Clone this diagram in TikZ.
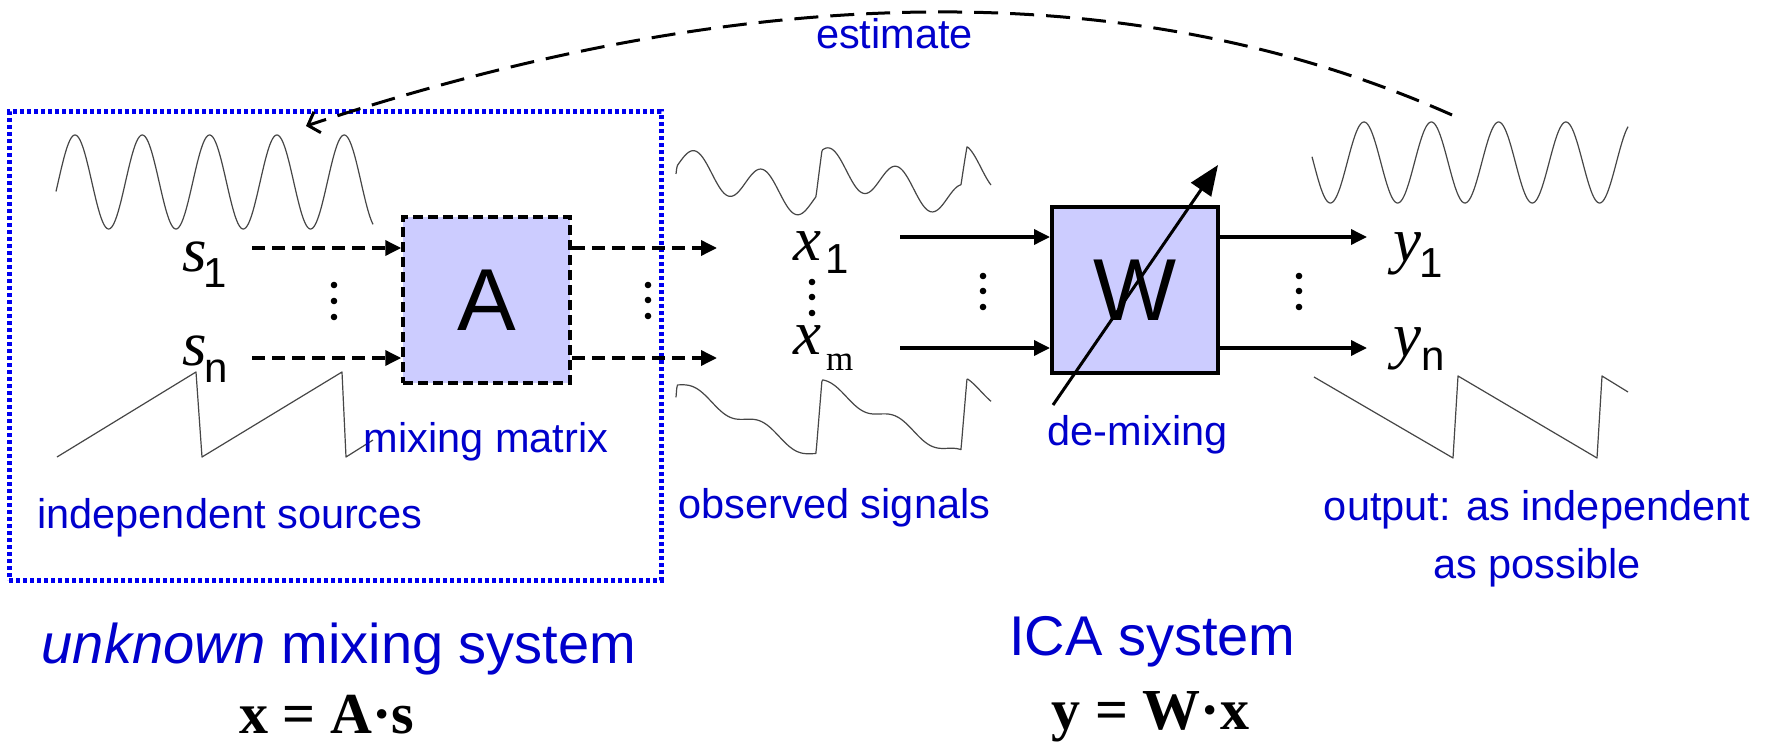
\documentclass[tikz,border=0pt]{standalone}
\usepackage{fontspec}
\setmainfont{Liberation Sans}
\newfontfamily\tnr{Liberation Serif}
\usetikzlibrary{arrows.meta}
\definecolor{lblue}{RGB}{0,0,204}
\definecolor{dotblue}{RGB}{0,0,240}
\definecolor{boxfill}{RGB}{204,204,255}
\definecolor{sigcol}{RGB}{70,70,70}
\begin{document}
\begin{tikzpicture}[x=1pt,y=-1pt,
  declare function={sn(\t)=cos((\t-75)/67.3*360); rr(\t)=mod(\t+233,145); saw(\t)=(rr(\t)<139)?(-1+2*rr(\t)/139):(1-2*(rr(\t)-139)/6);},
  lbl/.style={text=lblue, inner sep=0pt, font=\fontsize{41.5}{58}\selectfont},
  biglbl/.style={text=lblue, inner sep=0pt, font=\fontsize{56}{66}\selectfont},
  eqn/.style={inner sep=0pt, font=\tnr\bfseries\fontsize{58}{66}\selectfont},
  var/.style={inner sep=0pt, anchor=base west, font=\tnr\itshape\fontsize{63}{70}\selectfont},
  mixbox/.style={draw, line width=3.5pt, dash pattern=on 10pt off 5pt, fill=boxfill, minimum width=167pt, minimum height=166pt, inner sep=0pt, font=\fontsize{88}{90}\selectfont},
  wbox/.style={draw, line width=4pt, fill=boxfill, minimum width=166pt, minimum height=166pt, inner sep=0pt, font=\fontsize{88}{90}\selectfont},
  frame/.style={draw=dotblue, line width=5pt, dash pattern=on 4pt off 3pt, inner sep=0pt},
  sig/.style={draw=sigcol, line width=1.2pt, line join=round},
  darr/.style={line width=3.5pt, dash pattern=on 13pt off 7pt, -{Triangle[length=16pt,width=15pt]}},
  sarr/.style={line width=3.5pt, -{Triangle[length=16pt,width=15pt]}}
]
\useasboundingbox (0,0) rectangle (1776,746);
\fill[white] (0,0) rectangle (1776,746);

% blue dotted frame of the unknown mixing system
\node[frame, minimum width=652pt, minimum height=468pt] (unk) at (335,346) {};

% signals
\draw[sig] plot[domain=56:373, samples=320] (\x,{182-47*sn(\x)});
\draw[sig] (57,457) -- (196,372) -- (202,457) -- (342,372) -- (346,457) -- (373,440);
\draw[sig] plot[domain=56:371, samples=420] ({\x+620},{183-18*sn(\x)+19*saw(\x)});
\draw[sig] plot[domain=56:371, samples=420] ({\x+620},{419.8-5.9*sn(\x)+35.5*saw(\x)});
\draw[sig] plot[domain=1312:1628, samples=320] (\x,{162.5-40.5*cos((\x-1364)/67.3*360)});
\draw[sig] (1314,377) -- (1453,458) -- (1458,376) -- (1597,458) -- (1602,376) -- (1628,392);

% boxes
\node[mixbox] (A) at (486.5,300) {A};
\node[wbox] (W) at (1135,290) {W};

% variable labels
\node[var] (s1) at (182,271) {s\kern-3pt\raisebox{-16pt}{\normalfont\fontsize{42}{44}\selectfont 1}};
\node[var] (sn) at (182,365) {s\kern-2pt\raisebox{-17pt}{\normalfont\fontsize{42}{44}\selectfont n}};
\node[var] (x1) at (793,260) {x\kern4pt\raisebox{-13pt}{\normalfont\fontsize{42}{44}\selectfont 1}};
\node[var] (xm) at (793,354) {x\kern5pt\raisebox{-16pt}{\normalfont\tnr\fontsize{35}{38}\selectfont m}};
\node[var] (y1) at (1393,261) {y\kern-2pt\raisebox{-16pt}{\normalfont\fontsize{42}{44}\selectfont 1}};
\node[var] (yn) at (1393,356) {y\kern0pt\raisebox{-14pt}{\normalfont\fontsize{42}{44}\selectfont n}};

% connectors
\coordinate (s1o) at (252,248);
\coordinate (sno) at (252,358);
\draw[darr] (s1o) -- (s1o -| A.west);
\draw[darr] (sno) -- (sno -| A.west);
\coordinate (x1i) at (717,248);
\coordinate (xmi) at (717,358);
\draw[darr] (x1i -| A.east) -- (x1i);
\draw[darr] (xmi -| A.east) -- (xmi);
\coordinate (x1o) at (900,237);
\coordinate (xmo) at (900,348);
\draw[sarr] (x1o) -- (x1o -| W.west);
\draw[sarr] (xmo) -- (xmo -| W.west);
\coordinate (y1i) at (1367,237);
\coordinate (yni) at (1367,348);
\draw[sarr] (y1i -| W.east) -- (y1i);
\draw[sarr] (yni -| W.east) -- (yni);

% adjustable de-mixing arrow
\coordinate (wa) at (1053,405);
\coordinate (wb) at (1218,165);
\draw[line width=3pt, -{Triangle[length=30pt,width=24pt]}] (wa) -- (wb);

% estimate arc
\coordinate (estS) at (1452,115);
\coordinate (estE) at (306,126);
\draw[line width=3pt, dash pattern=on 24pt off 12pt, -{Straight Barb[length=10pt,width=22pt]}] (estS) .. controls (1135,-26) and (753,-22) .. (estE);

% vertical dots
\foreach \px/\py in {334/285,334/301,334/317,648/285,648/300,648/316,812/282,812/297,812/313,983/276,983/291,983/307,1299/276,1299/291,1299/307}
  \fill (\px,\py) circle[radius=3.3pt];

% blue labels
\node[lbl, anchor=base] (est) at (894.5,49) {estimate};
\node[lbl, anchor=base] (mm) at (486,452) {mixing matrix};
\node[lbl, anchor=base] (ind) at (230,528) {independent sources};
\node[lbl, anchor=base] (obs) at (834.5,518) {observed signals};
\node[lbl, anchor=base] (dem) at (1137.5,445) {de-mixing};
\node[lbl, anchor=north, align=center] (out) at (1537,490) {output: as independent\\as possible};
\node[biglbl, anchor=base] (unkl) at (339,663) {\textit{unknown} mixing system};
\node[biglbl, anchor=base] (ica) at (1152.5,655) {ICA system};

% equations
\node[eqn, anchor=base] (eqx) at (326.5,733) {x = A·s};
\node[eqn, anchor=base] (eqy) at (1150.5,729) {y = W·x};
\end{tikzpicture}
\end{document}
